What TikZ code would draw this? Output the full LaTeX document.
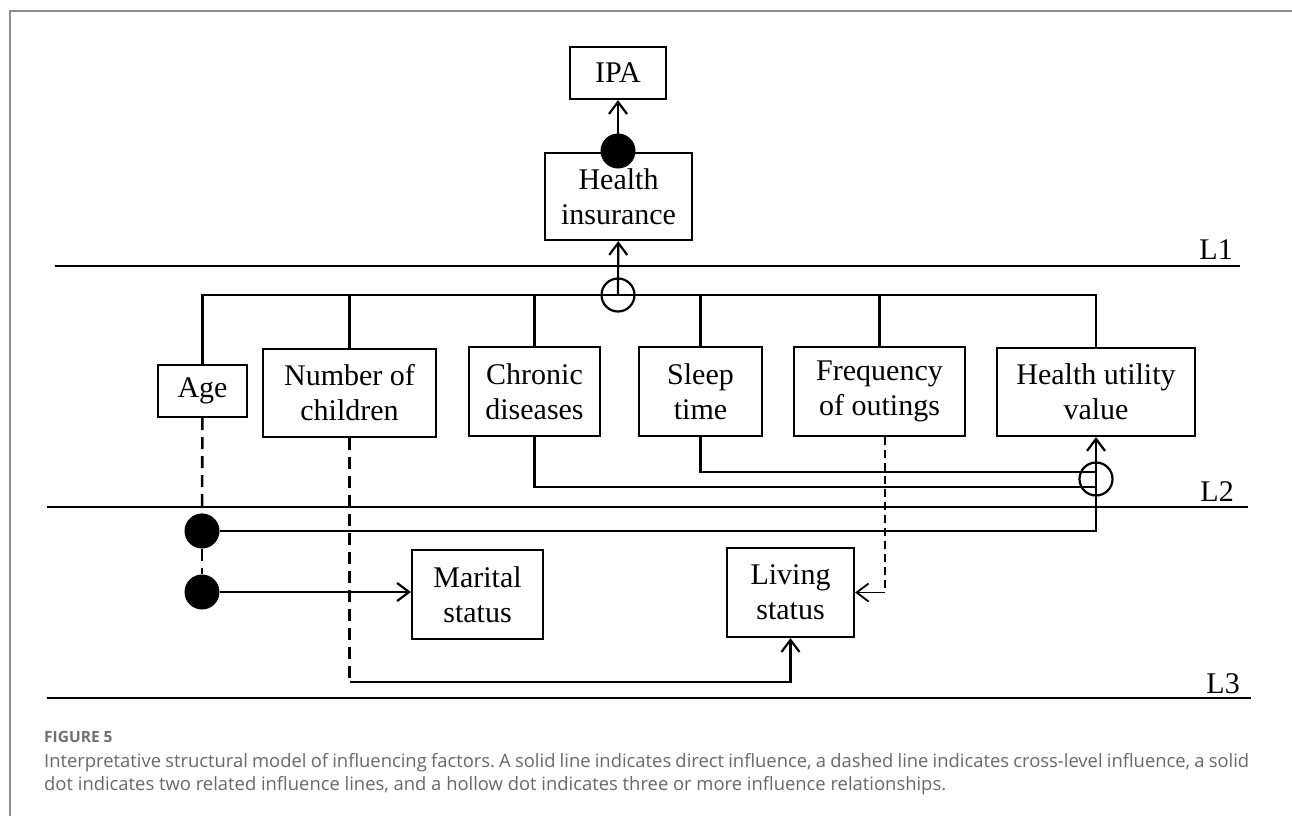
\documentclass[tikz,border=0pt]{standalone}
\usepackage{fontspec}
\setmainfont{Liberation Serif}
\newfontfamily\capfont{Open Sans}
\usetikzlibrary{arrows.meta}

\definecolor{framegray}{HTML}{8E8E8E}
\definecolor{capgray}{HTML}{686868}
\definecolor{figgray}{HTML}{707070}

\begin{document}
\begin{tikzpicture}[x=1pt, y=-1pt,
    factor/.style={draw, line width=2.2pt, inner sep=0pt, align=center,
        font=\fontsize{30}{35}\selectfont},
    link/.style={line width=2.2pt},
    arrowto/.style={-{Straight Barb[length=12pt,width=18pt]}},
    crossdash/.style={line width=2.6pt, dash pattern=on 12pt off 7pt},
    thindash/.style={line width=1.8pt, dash pattern=on 8pt off 5pt},
    soliddot/.style={circle, fill=black, minimum size=35pt, inner sep=0pt},
    hollowdot/.style={circle, draw, line width=2.2pt, minimum size=33pt, inner sep=0pt},
    layer/.style={line width=2.8pt},
    lvlabel/.style={anchor=base east, inner sep=0pt, font=\fontsize{30}{30}\selectfont}]
    \useasboundingbox (0,0) rectangle (1292,816);

    % Frame
    \draw[framegray, line width=1.5pt] (10,816) -- (10,11) -- (1292,11);

    % Levels
    \draw[layer] (55,266) -- (1240,266);
    \draw[layer] (47,507) -- (1248,507);
    \draw[layer] (47,698) -- (1251,698);
    \node[lvlabel] (l1) at (1233,259) {L1};
    \node[lvlabel] (l2) at (1234,501) {L2};
    \node[lvlabel] (l3) at (1240,693) {L3};

    % Nodes
    \node[factor, minimum width=96pt, minimum height=52pt] (ipa) at (618,73) {IPA};
    \node[factor, minimum width=147pt, minimum height=87pt] (insurance) at (618.5,196.5) {Health\\insurance};
    \node[factor, minimum width=89pt, minimum height=52pt] (age) at (202.5,391) {Age};
    \node[factor, minimum width=173pt, minimum height=88pt] (kids) at (349.5,393) {Number of\\children};
    \node[factor, minimum width=131pt, minimum height=89pt] (chronic) at (534.5,391.5) {Chronic\\diseases};
    \node[factor, minimum width=123pt, minimum height=89pt] (sleep) at (700.5,391.5) {Sleep\\time};
    \node[factor, minimum width=171pt, minimum height=89pt] (outing) at (879.5,391.5) {Frequency\\of outings};
    \node[factor, minimum width=198pt, minimum height=88pt] (utility) at (1096,392) {Health utility\\value};
    \node[factor, minimum width=131pt, minimum height=89pt] (marital) at (477.5,594.5) {Marital\\status};
    \node[factor, minimum width=127pt, minimum height=89pt] (living) at (790.5,592.5) {Living\\status};

    % Dots
    \node[soliddot] (topdot) at (618,151) {};
    \node[hollowdot] (hub) at (618,295) {};
    \node[hollowdot] (hub2) at (1096,479) {};
    \node[soliddot] (dota) at (202,531) {};
    \node[soliddot] (dotb) at (202,592) {};
    \coordinate (chronicend) at (1096,487);
    \coordinate (sleepend) at (1096,472);
    \coordinate (kidsend) at (349.5,682);
    \coordinate (outingend) at (885,592.5);

    % Lines
    \draw[link, arrowto] (topdot.center) -- (ipa);
    \draw[link, arrowto] (hub.center) -- (insurance);
    \draw[link] (age) |- (hub.center) -| (utility);
    \foreach \n in {kids, chronic, sleep, outing}
        \draw[link] (\n) -- (\n |- hub);
    \draw[link] (chronic) |- (chronicend);
    \draw[link] (sleep) |- (sleepend);
    \draw[link, arrowto] (dota) -| (utility);
    \draw[link, crossdash] (age) -- (dota);
    \draw[link, crossdash] (dota) -- (dotb);
    \draw[link, arrowto] (dotb) -- (dotb -| marital.west);
    \draw[link, thindash] (outing.south -| outingend) -- (outingend);
    \draw[link, line width=1.8pt, arrowto] (outingend) -- (living);
    \draw[link, crossdash] (kids) -- (kidsend);
    \draw[link, arrowto] (kidsend) -| (living);

    % Caption
    \node[anchor=base west, inner sep=0pt, text=figgray,
        font=\capfont\bfseries\fontsize{15.5}{15.5}\selectfont] (fig) at (44,742) {FIGURE 5};
    \node[anchor=base west, inner sep=0pt, text width=1205pt, align=justify, text=capgray,
        font=\capfont\frenchspacing\fontsize{18.4}{23}\selectfont] (caption) at (44,767)
        {Interpretative structural model of influencing factors. A solid line indicates direct influence, a dashed line indicates cross-level influence, a solid\linebreak dot indicates two related influence lines, and a hollow dot indicates three or more influence relationships.};
\end{tikzpicture}
\end{document}
